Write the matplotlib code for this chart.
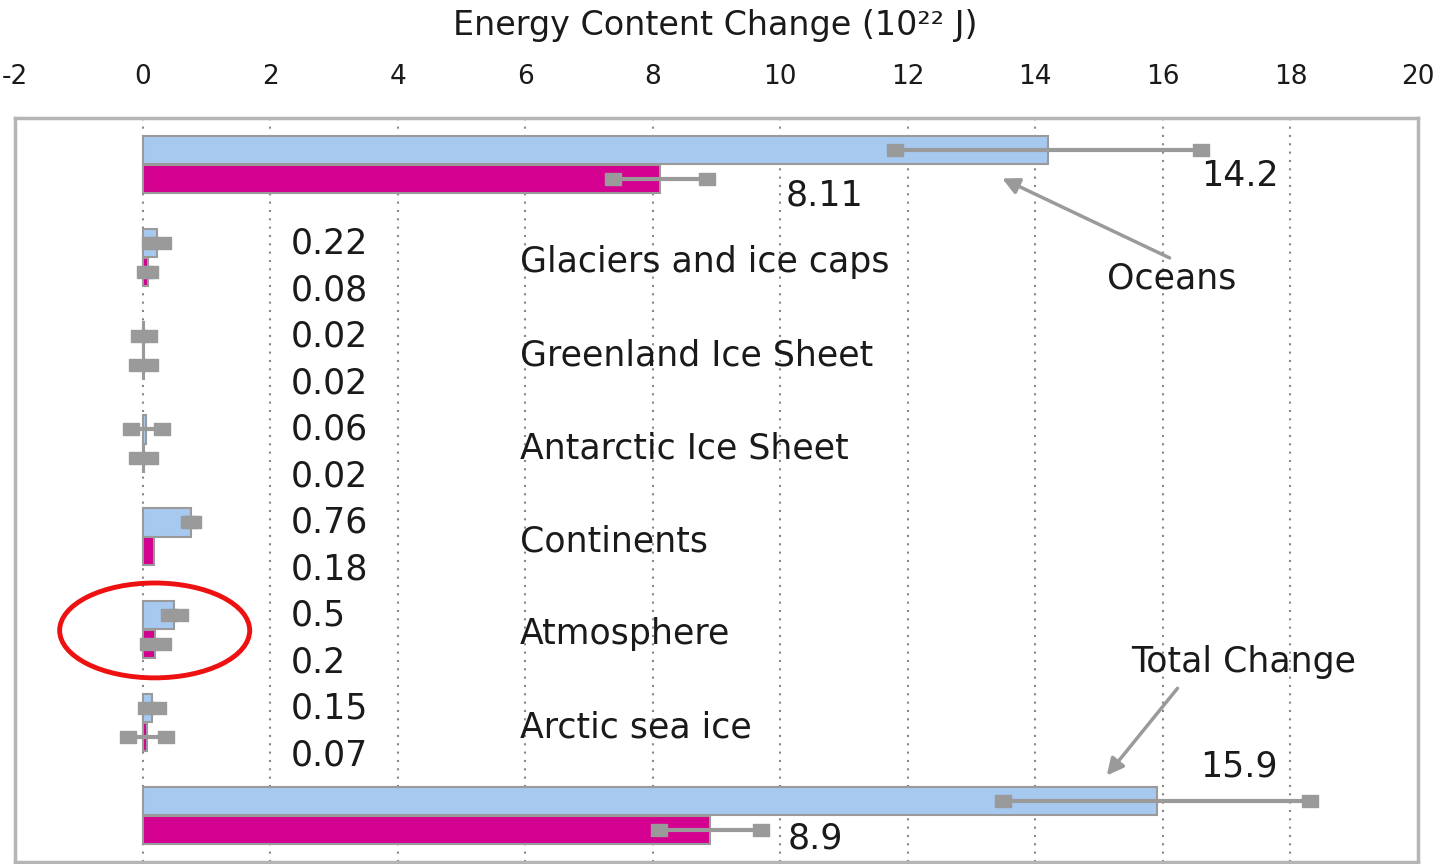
import matplotlib
matplotlib.use("Agg")
import matplotlib.pyplot as plt
from matplotlib.patches import Ellipse
import numpy as np

# Energy content change (10^22 J), two periods per component
components = ["Oceans", "Glaciers and ice caps", "Greenland Ice Sheet",
              "Antarctic Ice Sheet", "Continents", "Atmosphere",
              "Arctic sea ice", "Total Change"]
blue_vals = [14.2, 0.22, 0.02, 0.06, 0.76, 0.5, 0.15, 15.9]
pink_vals = [8.11, 0.08, 0.02, 0.02, 0.18, 0.2, 0.07, 8.9]
blue_err = [2.4, 0.1, 0.08, 0.24, 0.03, 0.09, 0.1, 2.4]
pink_err = [0.74, 0.04, 0.1, 0.1, np.nan, 0.12, 0.3, 0.8]
blue_labels = ["14.2", "0.22", "0.02", "0.06", "0.76", "0.5", "0.15", "15.9"]
pink_labels = ["8.11", "0.08", "0.02", "0.02", "0.18", "0.2", "0.07", "8.9"]
xticks = list(range(-2, 21, 2))

BLUE = "#a7c9ef"
PINK = "#d4008f"
GREY = "#9a9a9a"
TXT = "#1a1a1a"
FS = 25
plt.rcParams["font.family"] = ["DejaVu Sans"]

fig = plt.figure(figsize=(14.41, 8.64), dpi=100)
ax = fig.add_axes([15 / 1441, 2 / 864, 1403 / 1441, 744 / 864])

y = np.arange(len(components))
h = 0.31
ax.barh(y - h / 2, blue_vals, height=h, color=BLUE, edgecolor=GREY, linewidth=1.5, zorder=3)
ax.barh(y + h / 2, pink_vals, height=h, color=PINK, edgecolor=GREY, linewidth=1.5, zorder=3)

# rectangular end markers for the error bars
rect = [(-1.4, -1), (1.4, -1), (1.4, 1), (-1.4, 1), (-1.4, -1)]
for vals, errs, off in [(blue_vals, blue_err, -h / 2), (pink_vals, pink_err, h / 2)]:
    for i, (v, e) in enumerate(zip(vals, errs)):
        if np.isnan(e):
            continue
        ax.plot([v - e, v + e], [i + off, i + off], color=GREY, lw=3, zorder=4,
                marker=rect, markersize=12, markerfacecolor=GREY, markeredgecolor=GREY)

# value labels and component names
for i in range(1, 7):
    ax.text(2.32, i - 0.15, blue_labels[i], fontsize=FS, color=TXT, va="center", ha="left")
    ax.text(2.32, i + 0.35, pink_labels[i], fontsize=FS, color=TXT, va="center", ha="left")
    ax.text(5.92, i + 0.05, components[i], fontsize=FS, color=TXT, va="center", ha="left")

ax.text(16.6, 0.12, blue_labels[0], fontsize=FS, color=TXT, va="center")
ax.text(10.08, 0.33, pink_labels[0], fontsize=FS, color=TXT, va="center")
ax.text(16.58, 6.47, blue_labels[7], fontsize=FS, color=TXT, va="center")
ax.text(10.12, 7.25, pink_labels[7], fontsize=FS, color=TXT, va="center")

ax.annotate(components[0], xy=(13.48, 0.15), xytext=(15.12, 1.23), fontsize=FS, color=TXT,
            va="center", ha="left",
            arrowprops=dict(arrowstyle="-|>", color=GREY, lw=2.5, mutation_scale=25,
                            shrinkA=2, shrinkB=0, relpos=(0.55, 1.0)))
ax.annotate(components[7], xy=(15.12, 6.57), xytext=(15.5, 5.35), fontsize=FS, color=TXT,
            va="center", ha="left",
            arrowprops=dict(arrowstyle="-|>", color=GREY, lw=2.5, mutation_scale=25,
                            shrinkA=6, shrinkB=0, relpos=(0.24, 0.0)))

# highlight around atmosphere
ax.add_patch(Ellipse((0.19, 5.01), 2.98, 1.02, fill=False, edgecolor="#ee1111", lw=3.5, zorder=5))

ax.set_xlim(-2, 20)
ax.set_ylim(7.5, -0.5)
ax.set_yticks([])
ax.xaxis.tick_top()
ax.set_xticks(xticks)
ax.set_xticklabels([str(t) for t in xticks], fontsize=19, color=TXT)
ax.tick_params(axis="x", length=0, pad=20)
ax.grid(axis="x", linestyle=(0, (1, 3)), color="#888888", lw=1.5, zorder=1)
for s in ax.spines.values():
    s.set_color("#b5b5b5")
    s.set_linewidth(2.5)

fig.text(715 / 1441, 1 - 25 / 864, "Energy Content Change (10²² J)", fontsize=24,
         color=TXT, ha="center", va="center")

fig.savefig("out.png", dpi=100)
